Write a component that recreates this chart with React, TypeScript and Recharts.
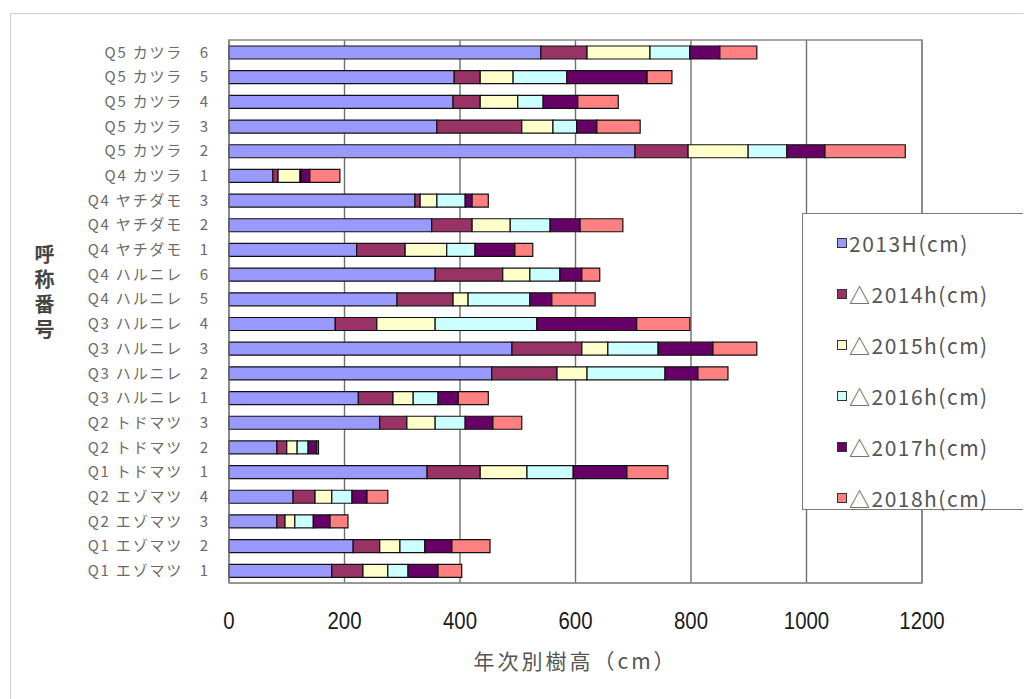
import { BarChart, Bar, XAxis, YAxis, CartesianGrid, Legend, ReferenceArea } from 'recharts'

// 上から順に並べた個体名
const categories = [
  'Q5 カツラ　6', 'Q5 カツラ　5', 'Q5 カツラ　4', 'Q5 カツラ　3', 'Q5 カツラ　2',
  'Q4 カツラ　1', 'Q4 ヤチダモ　3', 'Q4 ヤチダモ　2', 'Q4 ヤチダモ　1',
  'Q4 ハルニレ　6', 'Q4 ハルニレ　5', 'Q3 ハルニレ　4', 'Q3 ハルニレ　3',
  'Q3 ハルニレ　2', 'Q3 ハルニレ　1', 'Q2 トドマツ　3', 'Q2 トドマツ　2',
  'Q1 トドマツ　1', 'Q2 エゾマツ　4', 'Q2 エゾマツ　3', 'Q1 エゾマツ　2', 'Q1 エゾマツ　1',
]

const h2013 = [540, 390, 388, 360, 703, 76, 322, 351, 221, 357, 291, 184, 490, 455, 224, 261, 83, 343, 111, 83, 215, 178]
const d2014 = [80, 45, 47, 147, 92, 9, 9, 70, 84, 117, 97, 72, 121, 113, 60, 47, 17, 92, 38, 14, 46, 54]
const d2015 = [109, 57, 65, 54, 104, 38, 29, 66, 72, 47, 26, 101, 45, 52, 35, 49, 18, 81, 29, 17, 35, 43]
const d2016 = [69, 93, 44, 41, 67, 2, 49, 69, 49, 52, 107, 176, 87, 135, 43, 52, 19, 80, 35, 32, 43, 35]
const d2017 = [52, 139, 60, 35, 66, 15, 12, 52, 69, 38, 38, 173, 95, 57, 35, 48, 15, 93, 26, 29, 47, 52]
const d2018 = [64, 43, 70, 75, 139, 52, 28, 74, 31, 31, 75, 92, 76, 52, 52, 50, 3, 71, 36, 31, 66, 41]

const xTicks = [0, 200, 400, 600, 800, 1000, 1200]

const seriesKeys = ['h2013', 'd2014', 'd2015', 'd2016', 'd2017', 'd2018']
const seriesNames = ['2013H(cm)', '△2014h(cm)', '△2015h(cm)', '△2016h(cm)', '△2017h(cm)', '△2018h(cm)']
const seriesColors = ['#9999FF', '#993366', '#FFFFCC', '#CCFFFF', '#660066', '#FF8080']

const data = categories.map((name, i) => ({
  name,
  h2013: h2013[i],
  d2014: d2014[i],
  d2015: d2015[i],
  d2016: d2016[i],
  d2017: d2017[i],
  d2018: d2018[i],
}))

function XTick({ x, y, payload }: any) {
  return (
    <g transform={`translate(${x},${y + 36})`}>
      <text
        textAnchor="middle"
        dominantBaseline="central"
        transform="scale(0.85,1)"
        fontFamily="'Liberation Sans', Arial, sans-serif"
        fontSize={24}
        fill="#1a1a1a"
      >
        {payload.value}
      </text>
    </g>
  )
}

function LegendBox() {
  return (
    <div
      style={{
        width: 240,
        height: 297,
        background: '#fff',
        border: '1.5px solid #7a7a7a',
        boxSizing: 'border-box',
        position: 'relative',
        fontFamily: "'Noto Sans CJK JP', sans-serif",
      }}
    >
      {seriesNames.map((n, i) => (
        <div
          key={n}
          style={{
            position: 'absolute',
            left: 34,
            top: 16 + i * 51,
            height: 26,
            display: 'flex',
            alignItems: 'center',
            fontSize: 21,
            letterSpacing: 1.5,
            color: '#555',
            whiteSpace: 'nowrap',
          }}
        >
          <span
            style={{
              display: 'inline-block',
              width: 8,
              height: 8,
              background: seriesColors[i],
              border: '1px solid #333',
              marginRight: 2,
            }}
          />
          {n}
        </div>
      ))}
    </div>
  )
}

export default function App() {
  return (
    <div style={{ position: 'relative', width: 1023, height: 691, overflow: 'hidden', background: '#fff' }}>
      <div
        style={{
          position: 'absolute',
          left: 2,
          top: 5,
          width: 1100,
          height: 800,
          borderLeft: '1.5px solid #cfcfcf',
          borderTop: '1.5px solid #cfcfcf',
        }}
      />
      <div
        style={{
          position: 'absolute',
          left: 22,
          top: 236,
          writingMode: 'vertical-rl',
          fontFamily: "'Noto Sans CJK JP', sans-serif",
          fontSize: 20,
          fontWeight: 700,
          letterSpacing: 5,
          color: '#444',
        }}
      >
        呼称番号
      </div>
      <BarChart
        width={1023}
        height={691}
        data={data}
        layout="vertical"
        margin={{ top: 32, right: 109, bottom: 26, left: 0 }}
        barSize={13}
      >
        <CartesianGrid horizontal={false} stroke="#707070" strokeWidth={1.4} />
        <XAxis
          type="number"
          domain={[0, 1200]}
          ticks={xTicks}
          height={90}
          axisLine={{ stroke: '#888' }}
          tickLine={false}
          tickSize={0}
          tick={<XTick />}
          interval={0}
          label={{
            value: '年次別樹高（cm）',
            position: 'insideBottom',
            offset: 4,
            style: { fontFamily: "'Noto Sans CJK JP', sans-serif", fontSize: 21, letterSpacing: 3, fill: '#555' },
          }}
        />
        <YAxis
          type="category"
          dataKey="name"
          width={221}
          interval={0}
          axisLine={{ stroke: '#888' }}
          tickLine={false}
          tickSize={0}
          tickMargin={19}
          tick={{ fontFamily: "'Noto Sans CJK JP', sans-serif", fontSize: 15, letterSpacing: 1.8, fill: '#6a6a6a' }}
        />
        <ReferenceArea x1={0} x2={1200} fill="none" stroke="#888" strokeWidth={1.5} ifOverflow="visible" />
        {seriesKeys.map((k, i) => (
          <Bar
            key={k}
            dataKey={k}
            name={seriesNames[i]}
            stackId="h"
            fill={seriesColors[i]}
            stroke="#111"
            strokeWidth={1.2}
            isAnimationActive={false}
          />
        ))}
        <Legend
          layout="vertical"
          align="center"
          verticalAlign="middle"
          content={<LegendBox />}
          wrapperStyle={{ position: 'absolute', left: 794, top: 205, width: 240, height: 297 }}
        />
      </BarChart>
    </div>
  )
}
